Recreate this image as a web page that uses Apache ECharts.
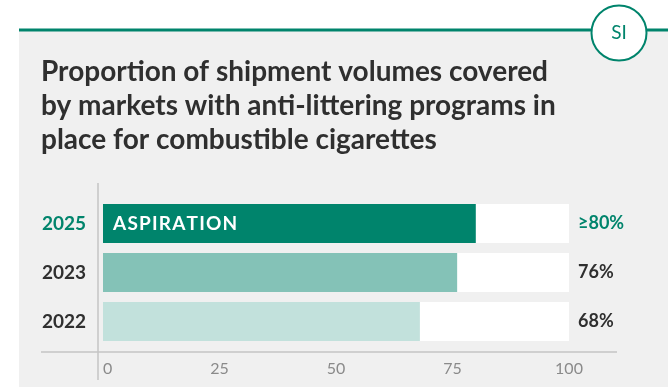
<!DOCTYPE html>
<html>
<head>
<meta charset="UTF-8">
<title>Anti-littering programs</title>
<script src="https://cdn.jsdelivr.net/npm/echarts@6/dist/echarts.min.js"></script>
<style>
  html, body { margin: 0; padding: 0; background: #fff; }
  #main { width: 668px; height: 387px; }
</style>
</head>
<body>
<div id="main"></div>
<script>
// data
var years = ['2022', '2023', '2025'];
var shares = [68, 76, 80];
var shareLabels = ['68%', '76%', '≥80%'];
var barColors = ['#c2e1dc', '#84c2b7', '#00846c'];
var xTicks = [0, 25, 50, 75, 100];

var green = '#00846c';
var dark = '#2f2f2f';

var chart = echarts.init(document.getElementById('main'));

// spread the letters a little, like the tracked label in the original
function tracked(s) {
  return s.split('').join('\u200A');
}

var barData = shares.map(function (v, i) {
  var item = { value: v, itemStyle: { color: barColors[i] } };
  if (years[i] === '2025') {
    item.label = {
      show: true,
      position: 'insideLeft',
      distance: 10,
      formatter: tracked('ASPIRATION'),
      color: '#fff',
      fontFamily: 'Lato',
      fontWeight: 'bold',
      fontSize: 19
    };
  }
  return item;
});

var option = {
  backgroundColor: '#fff',
  animation: false,
  title: {
    text: 'Proportion of shipment volumes covered\nby markets with anti-littering programs in\nplace for combustible cigarettes',
    left: 36,
    top: 50,
    textStyle: {
      fontFamily: 'Lato',
      fontWeight: 'bold',
      fontSize: 28,
      lineHeight: 34,
      color: dark
    }
  },
  graphic: [
    // grey panel
    { type: 'rect', z: -10, shape: { x: 19, y: 31, width: 649, height: 356 }, style: { fill: '#f0f0f0' } },
    // top rule with badge
    { type: 'line', z: 10, shape: { x1: 19, y1: 30, x2: 668, y2: 30 }, style: { stroke: green, lineWidth: 3 } },
    { type: 'circle', z: 11, shape: { cx: 619, cy: 33, r: 27.5 }, style: { fill: '#fff', stroke: green, lineWidth: 2 } },
    { type: 'text', z: 12, x: 619, y: 33, style: { text: 'SI', fill: green, fontFamily: 'Lato', fontSize: 19, align: 'center', verticalAlign: 'middle' } },
    // axis rules
    { type: 'line', z: 5, shape: { x1: 98, y1: 183, x2: 98, y2: 380 }, style: { stroke: '#c4c4c4', lineWidth: 1.5 } },
    { type: 'line', z: 5, shape: { x1: 41, y1: 352, x2: 617, y2: 352 }, style: { stroke: '#c4c4c4', lineWidth: 1.5 } }
  ],
  grid: { left: 103, right: 99, top: 199, bottom: 41 },
  xAxis: {
    type: 'value',
    min: xTicks[0],
    max: xTicks[xTicks.length - 1],
    interval: 25,
    axisLine: { show: false },
    axisTick: { show: false },
    splitLine: { show: false },
    axisLabel: {
      margin: 15,
      color: '#8a8a8a',
      fontFamily: 'Lato',
      fontSize: 16,
      alignMinLabel: 'left'
    }
  },
  yAxis: [{
    type: 'category',
    data: years,
    axisLine: { show: false },
    axisTick: { show: false },
    axisLabel: {
      margin: 17,
      fontFamily: 'Lato',
      fontWeight: 'bold',
      fontSize: 19,
      color: function (v) { return v === '2025' ? green : dark; }
    }
  }, {
    type: 'category',
    position: 'right',
    data: shareLabels,
    axisLine: { show: false },
    axisTick: { show: false },
    axisLabel: {
      margin: 9,
      fontFamily: 'Lato',
      fontWeight: 'bold',
      fontSize: 18,
      color: function (v) { return v.indexOf('≥') === 0 ? green : dark; }
    }
  }],
  series: [{
    type: 'bar',
    yAxisIndex: 0,
    barWidth: 39,
    showBackground: true,
    backgroundStyle: { color: '#fff' },
    data: barData
  }]
};

chart.setOption(option);
</script>
</body>
</html>
